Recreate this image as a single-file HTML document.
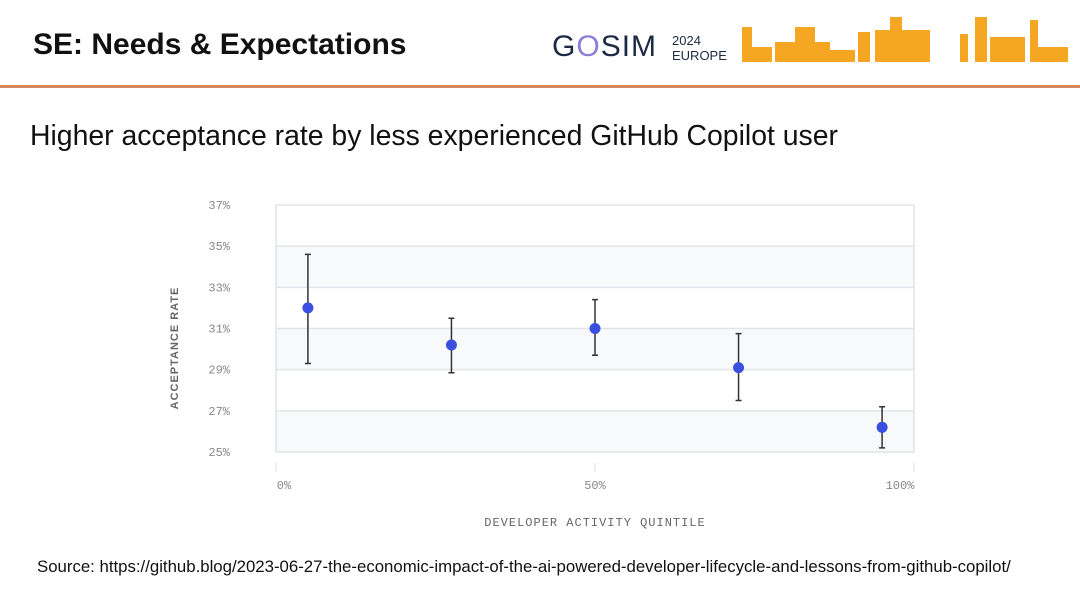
<!DOCTYPE html>
<html><head><meta charset="utf-8"><style>
body{margin:0;width:1080px;height:608px;background:#fff;font-family:"Liberation Sans",sans-serif;position:relative;overflow:hidden}
.abs{position:absolute}
</style></head><body>
<div class="abs" style="left:33px;top:28px;font-size:30px;font-weight:bold;color:#111">SE: Needs &amp; Expectations</div>
<div class="abs" style="left:552px;top:30px;font-size:30px;color:#1c2a44;letter-spacing:1px">G<span style="color:#8a7fd8">O</span>SIM</div>
<div class="abs" style="left:672px;top:33px;font-size:13px;color:#1c2a44;line-height:15px">2024<br>EUROPE</div>
<svg class="abs" style="left:740px;top:12px" width="330" height="52">
<g fill="#f5a623">
<rect x="2" y="15" width="10" height="35"/><rect x="12" y="35" width="20" height="15"/><rect x="35" y="30" width="55" height="20"/><rect x="55" y="15" width="20" height="35"/><rect x="90" y="38" width="25" height="12"/><rect x="118" y="20" width="12" height="30"/><rect x="135" y="18" width="55" height="32"/><rect x="150" y="5" width="12" height="20"/><rect x="220" y="22" width="8" height="28"/><rect x="235" y="5" width="12" height="45"/><rect x="250" y="25" width="35" height="25"/><rect x="290" y="8" width="8" height="42"/><rect x="298" y="35" width="30" height="15"/></g></svg>
<div class="abs" style="left:0;top:85px;width:1080px;height:3px;background:#d58a5b"></div>
<div class="abs" style="left:30px;top:120px;font-size:28.4px;color:#111">Higher acceptance rate by less experienced GitHub Copilot user</div>
<svg class="abs" id="chart" style="left:0;top:0" width="1080" height="608" font-family="Liberation Mono, monospace"></svg>
<div class="abs" style="left:37px;top:557px;font-size:16.8px;color:#111">Source: https://github.blog/2023-06-27-the-economic-impact-of-the-ai-powered-developer-lifecycle-and-lessons-from-github-copilot/</div>
<script>
const xVals=[5,27.5,50,72.5,95];
const yVals=[32.0,30.2,31.0,29.1,26.2];
const yLow=[29.3,28.85,29.7,27.5,25.2];
const yHigh=[34.6,31.5,32.4,30.75,27.2];
const yTicks=[25,27,29,31,33,35,37];
const xTicks=[0,50,100];
const svg=document.getElementById('chart');const NS='http://www.w3.org/2000/svg';
const X=v=>276+v/100*638;const Y=v=>452-(v-25)/12*247;
function mk(t,a){const e=document.createElementNS(NS,t);for(const k in a)e.setAttribute(k,a[k]);svg.appendChild(e);return e;}
[[33,35],[29,31],[25,27]].forEach(b=>{const r=mk('rect',{x:276,y:Y(b[1]),width:638,height:Y(b[0])-Y(b[1]),fill:'#f8f9fb'});

});
yTicks.forEach(t=>{const l=mk('line',{x1:276,x2:914,y1:Y(t),y2:Y(t),stroke:'#e1e4e8','stroke-width':1.5});


const tx=mk('text',{x:230,y:Y(t)+4,'text-anchor':'end','font-size':12,fill:'#888'});tx.textContent=t+'%';

});
const b1=mk('line',{x1:276,x2:276,y1:205,y2:452,stroke:'#e1e4e8','stroke-width':1.5});


const b2=mk('line',{x1:914,x2:914,y1:205,y2:452,stroke:'#e1e4e8','stroke-width':1.5});


xTicks.forEach(t=>{const l=mk('line',{x1:X(t),x2:X(t),y1:463,y2:472,stroke:'#ddd'});


const tx=mk('text',{x:X(t)+(t==0?8:t==100?-14:0),y:489,'text-anchor':'middle','font-size':12,fill:'#888'});tx.textContent=t+'%';

});
xVals.forEach((v,i)=>{const x=X(v);
const e=mk('path',{d:`M${x},${Y(yHigh[i])}V${Y(yLow[i])}M${x-3},${Y(yHigh[i])}h6M${x-3},${Y(yLow[i])}h6`,stroke:'#333','stroke-width':1.5,fill:'none'});


const c=mk('circle',{cx:x,cy:Y(yVals[i]),r:5.5,fill:'#3a4fe0'});

});
const xt=mk('text',{x:595,y:526,'text-anchor':'middle','font-size':12,fill:'#666','letter-spacing':1});xt.textContent='DEVELOPER ACTIVITY QUINTILE';


const yt=mk('text',{x:0,y:0,'text-anchor':'middle','font-size':11,fill:'#666','font-weight':'bold','font-family':'Liberation Sans, sans-serif','letter-spacing':1,transform:'translate(178,348) rotate(-90)'});yt.textContent='ACCEPTANCE  RATE';


</script>
</body></html>
